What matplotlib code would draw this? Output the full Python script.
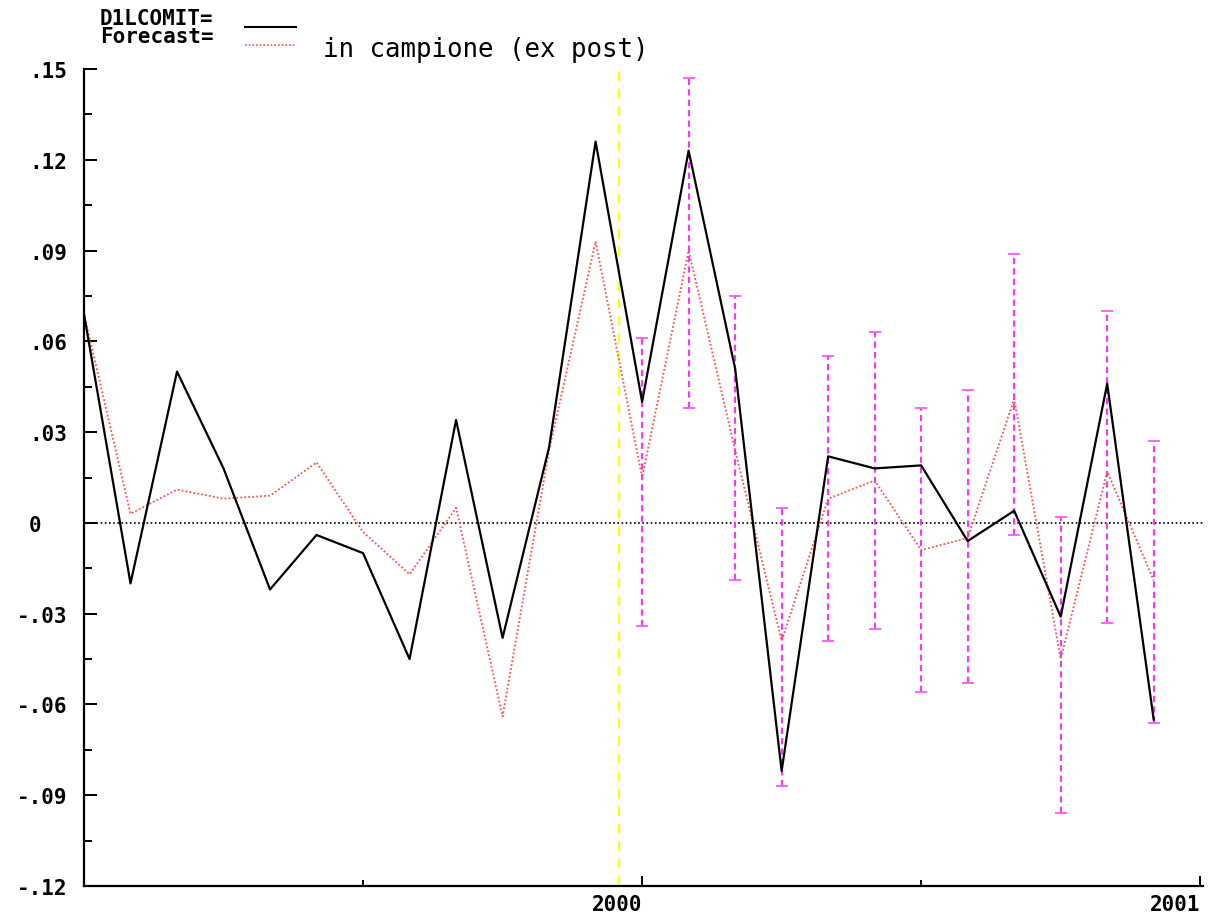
import numpy as np
import matplotlib
matplotlib.use("Agg")
import matplotlib.pyplot as plt
from matplotlib.lines import Line2D

# dati mensili gen 1999 - dic 2000
mesi = 1999 + np.arange(24) / 12.0
d1lcomit = [0.069, -0.020, 0.050, 0.018, -0.022, -0.004, -0.010, -0.045,
            0.034, -0.038, 0.025, 0.126, 0.040, 0.123, 0.051, -0.082,
            0.022, 0.018, 0.019, -0.006, 0.004, -0.031, 0.046, -0.065]
forecast = [0.069, 0.003, 0.011, 0.008, 0.009, 0.020, -0.003, -0.017,
            0.005, -0.064, 0.024, 0.093, 0.015, 0.090, 0.024, -0.039,
            0.008, 0.014, -0.009, -0.005, 0.041, -0.045, 0.017, -0.019]
# bande di errore solo per il 2000
mesi_2000 = mesi[12:]
err_low = [-0.034, 0.038, -0.019, -0.087, -0.039, -0.035, -0.056, -0.053,
           -0.004, -0.096, -0.033, -0.066]
err_high = [0.061, 0.147, 0.075, 0.005, 0.055, 0.063, 0.038, 0.044,
            0.089, 0.002, 0.070, 0.027]
inizio_prev = 1999 + 11.5 / 12

yticks = [-0.12, -0.09, -0.06, -0.03, 0, 0.03, 0.06, 0.09, 0.12, 0.15]
ylabels = ["-.12", "-.09", "-.06", "-.03", "0  ", ".03", ".06", ".09", ".12", ".15"]
xticks = [2000, 2001]
xlabels = ["2000", "2001"]

plt.rcParams['font.family'] = ['DejaVu Sans Mono']
plt.rcParams['font.weight'] = 'bold'

fig = plt.figure(figsize=(12.17, 9.2), dpi=100)
ax = fig.add_axes([84 / 1217, 33 / 920, (1203 - 84) / 1217, (887 - 70) / 920])

ax.axhline(0, color='black', lw=1.2, ls=(0, (1, 1.5)))
ax.axvline(inizio_prev, color='#ffff00', lw=1.4, ls=(0, (5, 4)))

# barre di errore tratteggiate
ax.vlines(mesi_2000, err_low, err_high, color='#ff33ff', lw=1.5, ls=(0, (3, 2)))
ax.plot(mesi_2000, err_low, ls='none', marker='_', ms=8, mew=1.3, color='#ff55ff')
ax.plot(mesi_2000, err_high, ls='none', marker='_', ms=8, mew=1.3, color='#ff55ff')

ax.plot(mesi, forecast, color='#ff5050', lw=1.3, ls=(0, (1, 1.2)))
ax.plot(mesi, d1lcomit, color='black', lw=1.6)

ax.set_xlim(1999, 2001.005)
ax.set_ylim(-0.12, 0.15)

ax.set_yticks(yticks)
ax.set_yticklabels(ylabels)
ax.set_yticks(np.arange(-0.105, 0.15, 0.03), minor=True)
ax.set_xticks(xticks)
ax.set_xticklabels(xlabels, ha='right')
ax.set_xticks([1999.5, 2000.5], minor=True)

ax.tick_params(axis='y', which='major', direction='in', length=9, width=1.4,
               labelsize=15, pad=12)
ax.tick_params(axis='y', which='minor', direction='in', length=5.5, width=1.4)
ax.tick_params(axis='x', which='major', direction='in', length=7, width=1.4,
               labelsize=15, pad=6)
ax.tick_params(axis='x', which='minor', direction='in', length=4, width=1.4)

for s in ['top', 'right']:
    ax.spines[s].set_visible(False)
for s in ['left', 'bottom']:
    ax.spines[s].set_linewidth(1.6)

# legenda in alto a sinistra
fig.text(100 / 1217, 1 - 19 / 920, "D1LCOMIT=", fontsize=15, fontweight='bold', va='center')
fig.text(100 / 1217, 1 - 37 / 920, "Forecast=", fontsize=15, fontweight='bold', va='center')
fig.add_artist(Line2D([245 / 1217, 296 / 1217], [1 - 28 / 920, 1 - 28 / 920],
                      color='black', lw=1.5))
fig.add_artist(Line2D([245 / 1217, 296 / 1217], [1 - 46 / 920, 1 - 46 / 920],
                      color='#ff5050', lw=1.2, ls=(0, (1, 1.2))))
fig.text(323 / 1217, 1 - 50 / 920, "in campione (ex post)", fontsize=18.5,
         fontweight='normal', va='center')

fig.savefig("out.png", dpi=100)
